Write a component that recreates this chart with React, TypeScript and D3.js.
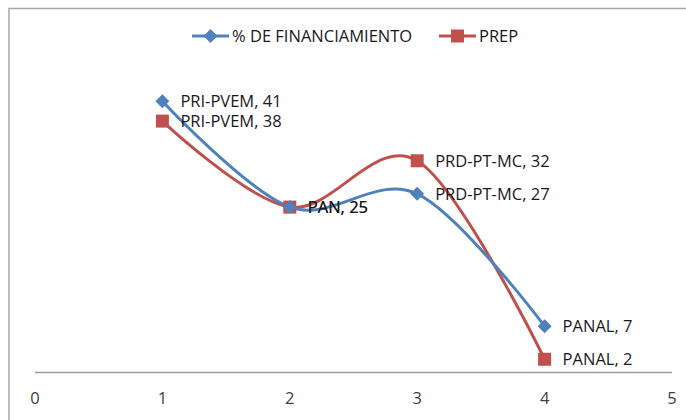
import React, { useEffect, useRef } from 'react';
import * as d3 from 'd3';

// chart data
const xs = [1, 2, 3, 4];
const partidosFin = ['PRI-PVEM', 'PAN', 'PRD-PT-MC', 'PANAL'];
const financiamiento = [41, 25, 27, 7];
const partidosPrep = ['PRI-PVEM', 'PAN', 'PRD-PT-MC', 'PANAL'];
const prep = [38, 25, 32, 2];
const xTicks = [0, 1, 2, 3, 4, 5];

const BLUE = '#4F81BD';
const RED = '#C0504D';
const FONT = '"Open Sans", "Noto Sans", sans-serif';

const App = () => {
  const svgRef = useRef(null);
  const width = 686;
  const height = 420;

  useEffect(() => {
    const svg = d3.select(svgRef.current);
    svg.selectAll('*').remove();

    // outer chart border (only top and left edges fit in the picture)
    svg.append('rect')
      .attr('x', 9).attr('y', 8.5)
      .attr('width', 700).attr('height', 440)
      .attr('fill', 'white')
      .attr('stroke', '#a6a6a6')
      .attr('stroke-width', 1.5);

    const x = d3.scaleLinear().domain([0, 5]).range([35, 672]);
    const y = d3.scaleLinear().domain([0, 50]).range([372.5, 41.7]);

    // x axis
    svg.append('line')
      .attr('x1', x(0)).attr('x2', x(5))
      .attr('y1', y(0)).attr('y2', y(0))
      .attr('stroke', '#9a9a9a')
      .attr('stroke-width', 1.5);

    svg.append('g')
      .selectAll('text')
      .data(xTicks)
      .enter()
      .append('text')
      .attr('x', d => x(d))
      .attr('y', 404)
      .attr('text-anchor', 'middle')
      .attr('font-family', FONT)
      .attr('font-size', 16.5)
      .attr('fill', '#404040')
      .text(d => d);

    const line = d3.line()
      .x(d => x(d[0]))
      .y(d => y(d[1]))
      .curve(d3.curveCardinal.tension(0));

    const series = [
      { name: 'PREP', values: prep, labels: partidosPrep, color: RED, shape: 'square' },
      { name: '% DE FINANCIAMIENTO', values: financiamiento, labels: partidosFin, color: BLUE, shape: 'diamond' },
    ];

    const marker = (g, shape, color, cx, cy) => {
      if (shape === 'square') {
        g.append('rect')
          .attr('x', cx - 6.5).attr('y', cy - 6.5)
          .attr('width', 13).attr('height', 13)
          .attr('fill', color);
      } else {
        g.append('path')
          .attr('d', `M${cx},${cy - 7}L${cx + 7},${cy}L${cx},${cy + 7}L${cx - 7},${cy}Z`)
          .attr('fill', color);
      }
    };

    // lines first, then markers, then labels
    series.forEach(s => {
      svg.append('path')
        .datum(xs.map((v, i) => [v, s.values[i]]))
        .attr('d', line)
        .attr('fill', 'none')
        .attr('stroke', s.color)
        .attr('stroke-width', 3);
    });

    series.forEach(s => {
      const g = svg.append('g');
      xs.forEach((v, i) => marker(g, s.shape, s.color, x(v), y(s.values[i])));
    });

    series.forEach(s => {
      svg.append('g')
        .selectAll('text')
        .data(xs)
        .enter()
        .append('text')
        .attr('x', d => x(d) + 18)
        .attr('y', (d, i) => y(s.values[i]) + 6)
        .attr('font-family', FONT)
        .attr('font-size', 16.5)
        .attr('fill', '#1a1a1a')
        .text((d, i) => `${s.labels[i]}, ${s.values[i]}`);
    });

    // legend
    const legend = [
      { name: '% DE FINANCIAMIENTO', color: BLUE, shape: 'diamond', x0: 192 },
      { name: 'PREP', color: RED, shape: 'square', x0: 439 },
    ];
    legend.forEach(l => {
      const g = svg.append('g');
      g.append('line')
        .attr('x1', l.x0).attr('x2', l.x0 + 37)
        .attr('y1', 36).attr('y2', 36)
        .attr('stroke', l.color)
        .attr('stroke-width', 3);
      marker(g, l.shape, l.color, l.x0 + 18.5, 36);
      g.append('text')
        .attr('x', l.x0 + 40)
        .attr('y', 42)
        .attr('font-family', FONT)
        .attr('font-size', 16.5)
        .attr('fill', '#1a1a1a')
        .text(l.name);
    });
  }, []);

  return (
    <svg
      ref={svgRef}
      width={width}
      height={height}
      style={{ position: 'absolute', left: 0, top: 0, display: 'block', background: 'white' }}
    ></svg>
  );
};

export default App;
